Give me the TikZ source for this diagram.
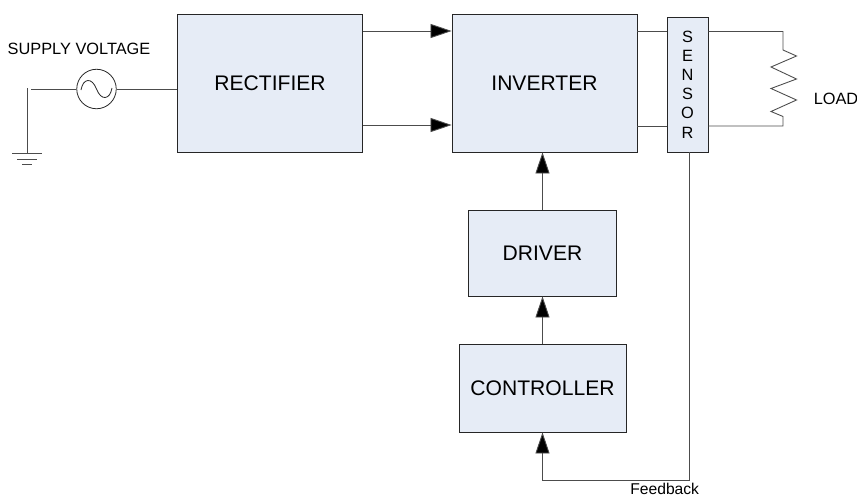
\documentclass[tikz,border=0pt]{standalone}
\usepackage{fontspec}
\setmainfont{Liberation Sans}
\usetikzlibrary{arrows.meta}
\definecolor{boxfill}{RGB}{230,236,246}
\tikzset{
  blockbox/.style={draw=black!85,fill=boxfill,line width=0.45pt,inner sep=0pt,font=\fontsize{12}{14}\selectfont},
  wire/.style={draw=black!70,line width=0.5pt},
  tip/.style={wire,-{Triangle[length=12pt,width=8pt,fill=black]}},
  smalltext/.style={inner sep=0pt,font=\fontsize{9.3}{11}\selectfont},
}
\begin{document}
\begin{tikzpicture}[x=0.02cm,y=-0.02cm]
        \useasboundingbox (0,0) rectangle (857,497);

        \node[blockbox,minimum width=3.69cm,minimum height=2.76cm] (rectifier) at (270,83) {RECTIFIER};
        \node[blockbox,minimum width=3.70cm,minimum height=2.76cm] (inverter) at (544.5,83) {INVERTER};
        \node[blockbox,minimum width=0.82cm,minimum height=2.70cm,align=center,font=\fontsize{9.3}{10.9}\selectfont] (sensor) at (687.5,84.5) {S\\E\\N\\S\\O\\R};
        \node[blockbox,minimum width=2.96cm,minimum height=1.72cm] (driver) at (542.5,253) {DRIVER};
        \node[blockbox,minimum width=3.34cm,minimum height=1.76cm] (controller) at (542.5,388) {CONTROLLER};

        \node[draw=black!85,circle,line width=0.45pt,minimum size=0.79cm,inner sep=0pt] (source) at (96.5,89) {};
        \draw[black!85,line width=0.45pt] (81,90) .. controls (83,78) and (92,77) .. (96.5,89) .. controls (101,101) and (110,100) .. (112,88);

        \node[smalltext] (supply) at (79,49) {SUPPLY VOLTAGE};
        \node[smalltext] (load) at (836,99) {LOAD};
        \node[smalltext,anchor=north west,font=\fontsize{8.9}{10}\selectfont] (feedback) at (630,483) {Feedback};

        % supply and ground
        \coordinate (gnd) at (27,153.5);
        \draw[wire] (source.west) -- (31,89);
        \draw[wire] (27,88) -- (gnd);
        \draw[wire] (12,153.5) -- (42,153.5);
        \draw[wire] (17,159) -- (37,159);
        \draw[wire] (22,164) -- (32,164);
        \draw[wire] (source.east) -- (rectifier.west |- source.east);

        % dc link
        \draw[tip] (rectifier.east |- 0,31) -- (inverter.west |- 0,31);
        \draw[tip] (rectifier.east |- 0,125) -- (inverter.west |- 0,125);

        % output and load
        \draw[wire] (inverter.east |- 0,31.5) -- (sensor.west |- 0,31.5);
        \draw[wire] (inverter.east |- 0,126) -- (sensor.west |- 0,126);
        \draw[wire] (sensor.east |- 0,31.5) -- (783,31.5) -- (783,50) -- (796.5,56) -- (771,67) -- (796.5,79) -- (771,88.5) -- (796.5,100) -- (771,111.5) -- (783,116.5) -- (783,126) -- (sensor.east |- 0,126);

        % control path
        \draw[tip] (driver.north) -- (inverter.south -| driver.north);
        \draw[tip] (controller.north) -- (driver.south);
        \draw[tip] (sensor.south -| 689.5,0) -- (689.5,480.5) -- (542.5,480.5) -- (controller.south);
    \end{tikzpicture}
\end{document}
